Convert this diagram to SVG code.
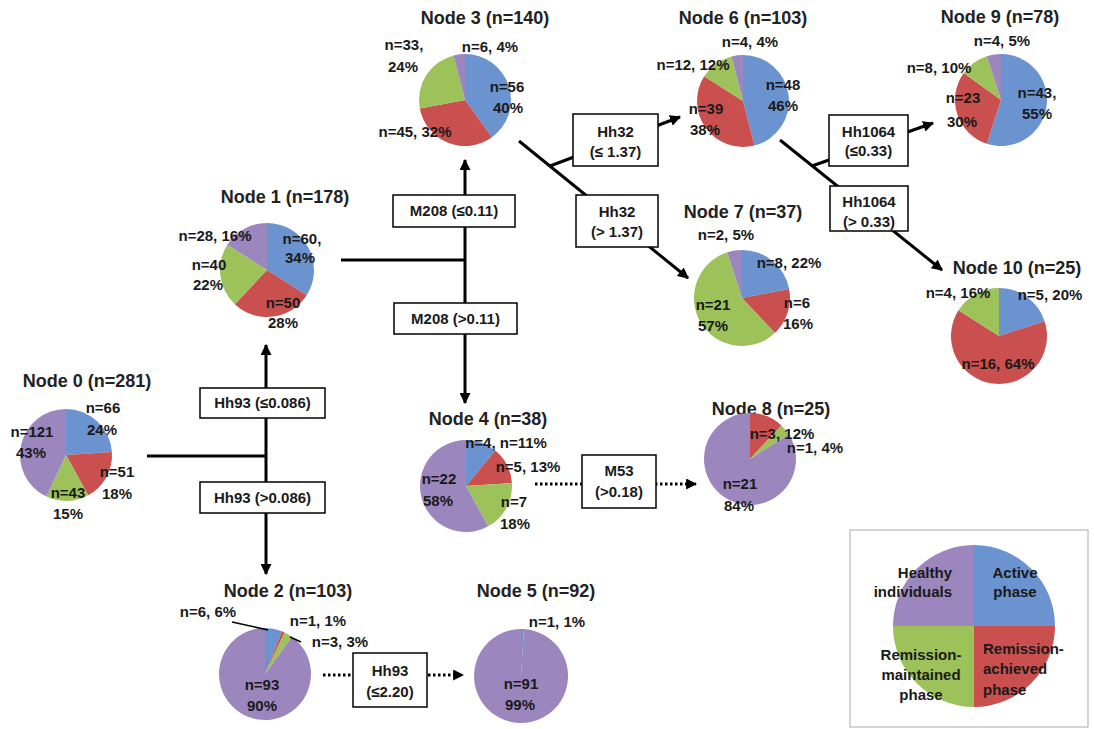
<svg xmlns="http://www.w3.org/2000/svg" width="1094" height="729" viewBox="0 0 1094 729">
<style>
.t{font-family:"Liberation Sans",Arial,sans-serif;font-weight:bold;font-size:18px;fill:#222;text-anchor:middle}
.l{font-family:"Liberation Sans",Arial,sans-serif;font-weight:bold;font-size:15px;fill:#1a1a1a;text-anchor:middle}
.bx{fill:#fff;stroke:#000;stroke-width:1.5}
.c{fill:none;stroke:#000;stroke-width:3}
.d{fill:none;stroke:#000;stroke-width:3;stroke-dasharray:2.5 2.5}
.b{fill:#6b93cf}.r{fill:#c9504e}.g{fill:#9dc25a}.p{fill:#9b86bd}
</style>
<defs>
<marker id="ah" viewBox="0 0 10 10" refX="9" refY="5" markerWidth="11" markerHeight="11" markerUnits="userSpaceOnUse" orient="auto">
<path d="M0,0 L10,5 L0,10 z" fill="#000"/>
</marker>
</defs>
<g id="connectors">
<path class="c" d="M147,456 H266"/>
<path class="c" d="M266,456 V345" marker-end="url(#ah)"/>
<path class="c" d="M266,456 V574" marker-end="url(#ah)"/>
<path class="c" d="M341,260 H465"/>
<path class="c" d="M465,260 V160" marker-end="url(#ah)"/>
<path class="c" d="M465,260 V403" marker-end="url(#ah)"/>
<path class="c" d="M519,141 L688,278" marker-end="url(#ah)"/>
<path class="c" d="M550,166 L680,117" marker-end="url(#ah)"/>
<path class="c" d="M780,140 L942,270" marker-end="url(#ah)"/>
<path class="c" d="M812,166 L933,123" marker-end="url(#ah)"/>
<path class="d" d="M535,484 H696" marker-end="url(#ah)"/>
<path class="d" d="M323,675 H463" marker-end="url(#ah)"/>
</g>
<g id="split-hh93-le">
<rect class="bx" x="200" y="388" width="125" height="30"/>
<text class="l" x="262.5" y="408">Hh93 (≤0.086)</text>
</g>
<g id="split-hh93-gt">
<rect class="bx" x="200" y="482" width="125" height="31"/>
<text class="l" x="262.5" y="503">Hh93 (&gt;0.086)</text>
</g>
<g id="split-m208-le">
<rect class="bx" x="393" y="195" width="122" height="32"/>
<text class="l" x="454" y="216">M208 (≤0.11)</text>
</g>
<g id="split-m208-gt">
<rect class="bx" x="394" y="303" width="123" height="31"/>
<text class="l" x="455.5" y="324">M208 (&gt;0.11)</text>
</g>
<g id="split-hh32-le">
<rect class="bx" x="573" y="114" width="85" height="52"/>
<text class="l" x="615.5" y="137">Hh32</text>
<text class="l" x="615.5" y="157">(≤ 1.37)</text>
</g>
<g id="split-hh32-gt">
<rect class="bx" x="576" y="195" width="82" height="52"/>
<text class="l" x="617" y="217">Hh32</text>
<text class="l" x="617" y="237">(&gt; 1.37)</text>
</g>
<g id="split-hh1064-le">
<rect class="bx" x="829" y="115" width="79" height="51"/>
<text class="l" x="868.5" y="137">Hh1064</text>
<text class="l" x="868.5" y="156">(≤0.33)</text>
</g>
<g id="split-hh1064-gt">
<rect class="bx" x="830" y="186" width="78" height="45"/>
<text class="l" x="869" y="207">Hh1064</text>
<text class="l" x="869" y="227">(&gt; 0.33)</text>
</g>
<g id="split-m53">
<rect class="bx" x="582" y="455" width="74" height="53"/>
<text class="l" x="619" y="476">M53</text>
<text class="l" x="619" y="497">(&gt;0.18)</text>
</g>
<g id="split-hh93-2">
<rect class="bx" x="353" y="653" width="74" height="54"/>
<text class="l" x="390" y="676">Hh93</text>
<text class="l" x="390" y="697">(≤2.20)</text>
</g>
<g id="node0">
<text class="t" x="87" y="387">Node 0 (n=281)</text>
<path class="b" d="M66,455 L66,409 A46,46 0 0 1 111.91,452.11 Z"/>
<path class="r" d="M66,455 L111.91,452.11 A46,46 0 0 1 88.16,495.31 Z"/>
<path class="g" d="M66,455 L88.16,495.31 A46,46 0 0 1 46.41,496.62 Z"/>
<path class="p" d="M66,455 L46.41,496.62 A46,46 0 0 1 66,409 Z"/>
<text class="l" x="103" y="413">n=66</text>
<text class="l" x="102" y="435">24%</text>
<text class="l" x="32" y="437">n=121</text>
<text class="l" x="31" y="458">43%</text>
<text class="l" x="117" y="477">n=51</text>
<text class="l" x="117" y="499">18%</text>
<text class="l" x="68" y="498">n=43</text>
<text class="l" x="68" y="519">15%</text>
</g>
<g id="node1">
<text class="t" x="285" y="203">Node 1 (n=178)</text>
<path class="b" d="M267,270 L267,223 A47,47 0 0 1 306.68,295.18 Z"/>
<path class="r" d="M267,270 L306.68,295.18 A47,47 0 0 1 234.83,304.26 Z"/>
<path class="g" d="M267,270 L234.83,304.26 A47,47 0 0 1 227.32,244.82 Z"/>
<path class="p" d="M267,270 L227.32,244.82 A47,47 0 0 1 267,223 Z"/>
<text class="l" x="215" y="241">n=28, 16%</text>
<text class="l" x="302" y="244">n=60,</text>
<text class="l" x="300" y="263">34%</text>
<text class="l" x="209" y="270">n=40</text>
<text class="l" x="208" y="290">22%</text>
<text class="l" x="283" y="308">n=50</text>
<text class="l" x="283" y="328">28%</text>
</g>
<g id="node2">
<text class="t" x="288" y="597">Node 2 (n=103)</text>
<path class="b" d="M265,674 L265,628 A46,46 0 0 1 281.93,631.23 Z"/>
<path class="r" d="M265,674 L281.93,631.23 A46,46 0 0 1 284.59,632.38 Z"/>
<path class="g" d="M265,674 L284.59,632.38 A46,46 0 0 1 292.04,636.79 Z"/>
<path class="p" d="M265,674 L292.04,636.79 A46,46 0 1 1 265,628 Z"/>
<path d="M232,622 L268,630 M290,637 L301,642" stroke="#000" stroke-width="1.5" fill="none"/>
<text class="l" x="208" y="617">n=6, 6%</text>
<text class="l" x="318" y="626">n=1, 1%</text>
<text class="l" x="340" y="647">n=3, 3%</text>
<text class="l" x="262" y="690">n=93</text>
<text class="l" x="262" y="711">90%</text>
</g>
<g id="node3">
<text class="t" x="485" y="24">Node 3 (n=140)</text>
<path class="b" d="M465,100 L465,54 A46,46 0 0 1 492.04,137.21 Z"/>
<path class="r" d="M465,100 L492.04,137.21 A46,46 0 0 1 419.81,108.62 Z"/>
<path class="g" d="M465,100 L419.81,108.62 A46,46 0 0 1 453.56,55.45 Z"/>
<path class="p" d="M465,100 L453.56,55.45 A46,46 0 0 1 465,54 Z"/>
<text class="l" x="404" y="50">n=33,</text>
<text class="l" x="403" y="72">24%</text>
<text class="l" x="490" y="52">n=6, 4%</text>
<text class="l" x="507" y="92">n=56</text>
<text class="l" x="508" y="113">40%</text>
<text class="l" x="415" y="137">n=45, 32%</text>
</g>
<g id="node4">
<text class="t" x="488" y="425">Node 4 (n=38)</text>
<path class="b" d="M466,486 L466,440 A46,46 0 0 1 495.32,450.56 Z"/>
<path class="r" d="M466,486 L495.32,450.56 A46,46 0 0 1 511.91,483.11 Z"/>
<path class="g" d="M466,486 L511.91,483.11 A46,46 0 0 1 488.16,526.31 Z"/>
<path class="p" d="M466,486 L488.16,526.31 A46,46 0 1 1 466,440 Z"/>
<text class="l" x="506" y="448">n=4, n=11%</text>
<text class="l" x="528" y="472">n=5, 13%</text>
<text class="l" x="439" y="484">n=22</text>
<text class="l" x="438" y="506">58%</text>
<text class="l" x="514" y="507">n=7</text>
<text class="l" x="515" y="529">18%</text>
</g>
<g id="node5">
<text class="t" x="536" y="597">Node 5 (n=92)</text>
<path class="b" d="M521,676 L521,629 A47,47 0 0 1 523.95,629.09 Z"/>
<path class="p" d="M521,676 L523.95,629.09 A47,47 0 1 1 521,629 Z"/>
<text class="l" x="557" y="627">n=1, 1%</text>
<text class="l" x="521" y="689">n=91</text>
<text class="l" x="520" y="710">99%</text>
</g>
<g id="node6">
<text class="t" x="743" y="24">Node 6 (n=103)</text>
<path class="b" d="M743,101 L743,55 A46,46 0 0 1 754.44,145.55 Z"/>
<path class="r" d="M743,101 L754.44,145.55 A46,46 0 0 1 704.16,76.35 Z"/>
<path class="g" d="M743,101 L704.16,76.35 A46,46 0 0 1 731.56,56.45 Z"/>
<path class="p" d="M743,101 L731.56,56.45 A46,46 0 0 1 743,55 Z"/>
<text class="l" x="750" y="47">n=4, 4%</text>
<text class="l" x="693" y="70">n=12, 12%</text>
<text class="l" x="783" y="90">n=48</text>
<text class="l" x="783" y="111">46%</text>
<text class="l" x="706" y="114">n=39</text>
<text class="l" x="705" y="135">38%</text>
</g>
<g id="node7">
<text class="t" x="743" y="218">Node 7 (n=37)</text>
<path class="b" d="M742,298 L742,250 A48,48 0 0 1 789.15,289.01 Z"/>
<path class="r" d="M742,298 L789.15,289.01 A48,48 0 0 1 774.86,332.99 Z"/>
<path class="g" d="M742,298 L774.86,332.99 A48,48 0 1 1 727.17,252.35 Z"/>
<path class="p" d="M742,298 L727.17,252.35 A48,48 0 0 1 742,250 Z"/>
<text class="l" x="726" y="240">n=2, 5%</text>
<text class="l" x="789" y="268">n=8, 22%</text>
<text class="l" x="797" y="308">n=6</text>
<text class="l" x="798" y="329">16%</text>
<text class="l" x="713" y="310">n=21</text>
<text class="l" x="713" y="331">57%</text>
</g>
<g id="node8">
<text class="t" x="771" y="415">Node 8 (n=25)</text>
<path class="r" d="M750,459 L750,413 A46,46 0 0 1 781.49,425.47 Z"/>
<path class="g" d="M750,459 L781.49,425.47 A46,46 0 0 1 788.84,434.35 Z"/>
<path class="p" d="M750,459 L788.84,434.35 A46,46 0 1 1 750,413 Z"/>
<text class="l" x="782" y="439">n=3, 12%</text>
<text class="l" x="815" y="453">n=1, 4%</text>
<text class="l" x="740" y="489">n=21</text>
<text class="l" x="739" y="511">84%</text>
</g>
<g id="node9">
<text class="t" x="1000" y="23">Node 9 (n=78)</text>
<path class="b" d="M1001,100 L1001,54 A46,46 0 1 1 986.79,143.75 Z"/>
<path class="r" d="M1001,100 L986.79,143.75 A46,46 0 0 1 963.79,72.96 Z"/>
<path class="g" d="M1001,100 L963.79,72.96 A46,46 0 0 1 986.79,56.25 Z"/>
<path class="p" d="M1001,100 L986.79,56.25 A46,46 0 0 1 1001,54 Z"/>
<text class="l" x="1002" y="46">n=4, 5%</text>
<text class="l" x="939" y="73">n=8, 10%</text>
<text class="l" x="963" y="103">n=23</text>
<text class="l" x="962" y="127">30%</text>
<text class="l" x="1037" y="98">n=43,</text>
<text class="l" x="1037" y="119">55%</text>
</g>
<g id="node10">
<text class="t" x="1017" y="274">Node 10 (n=25)</text>
<path class="b" d="M999,336 L999,288 A48,48 0 0 1 1044.65,321.17 Z"/>
<path class="r" d="M999,336 L1044.65,321.17 A48,48 0 1 1 958.47,310.28 Z"/>
<path class="g" d="M999,336 L958.47,310.28 A48,48 0 0 1 999,288 Z"/>
<text class="l" x="958" y="298">n=4, 16%</text>
<text class="l" x="1050" y="300">n=5, 20%</text>
<text class="l" x="998" y="369">n=16, 64%</text>
</g>
<g id="legend">
<rect x="850" y="530" width="238" height="197" fill="#fff" stroke="#aaa" stroke-width="1"/>
<path class="b" d="M974,626 L974,545 A81,81 0 0 1 1055,626 Z"/>
<path class="r" d="M974,626 L1055,626 A81,81 0 0 1 974,707 Z"/>
<path class="g" d="M974,626 L974,707 A81,81 0 0 1 893,626 Z"/>
<path class="p" d="M974,626 L893,626 A81,81 0 0 1 974,545 Z"/>
<text class="l" x="952" y="578" style="text-anchor:end">Healthy</text>
<text class="l" x="952" y="597" style="text-anchor:end">individuals</text>
<text class="l" x="1015" y="578">Active</text>
<text class="l" x="1015" y="597">phase</text>
<text class="l" x="921" y="660">Remission-</text>
<text class="l" x="921" y="680">maintained</text>
<text class="l" x="921" y="700">phase</text>
<text class="l" x="983" y="654" style="text-anchor:start">Remission-</text>
<text class="l" x="983" y="674" style="text-anchor:start">achieved</text>
<text class="l" x="983" y="695" style="text-anchor:start">phase</text>
</g>
</svg>
